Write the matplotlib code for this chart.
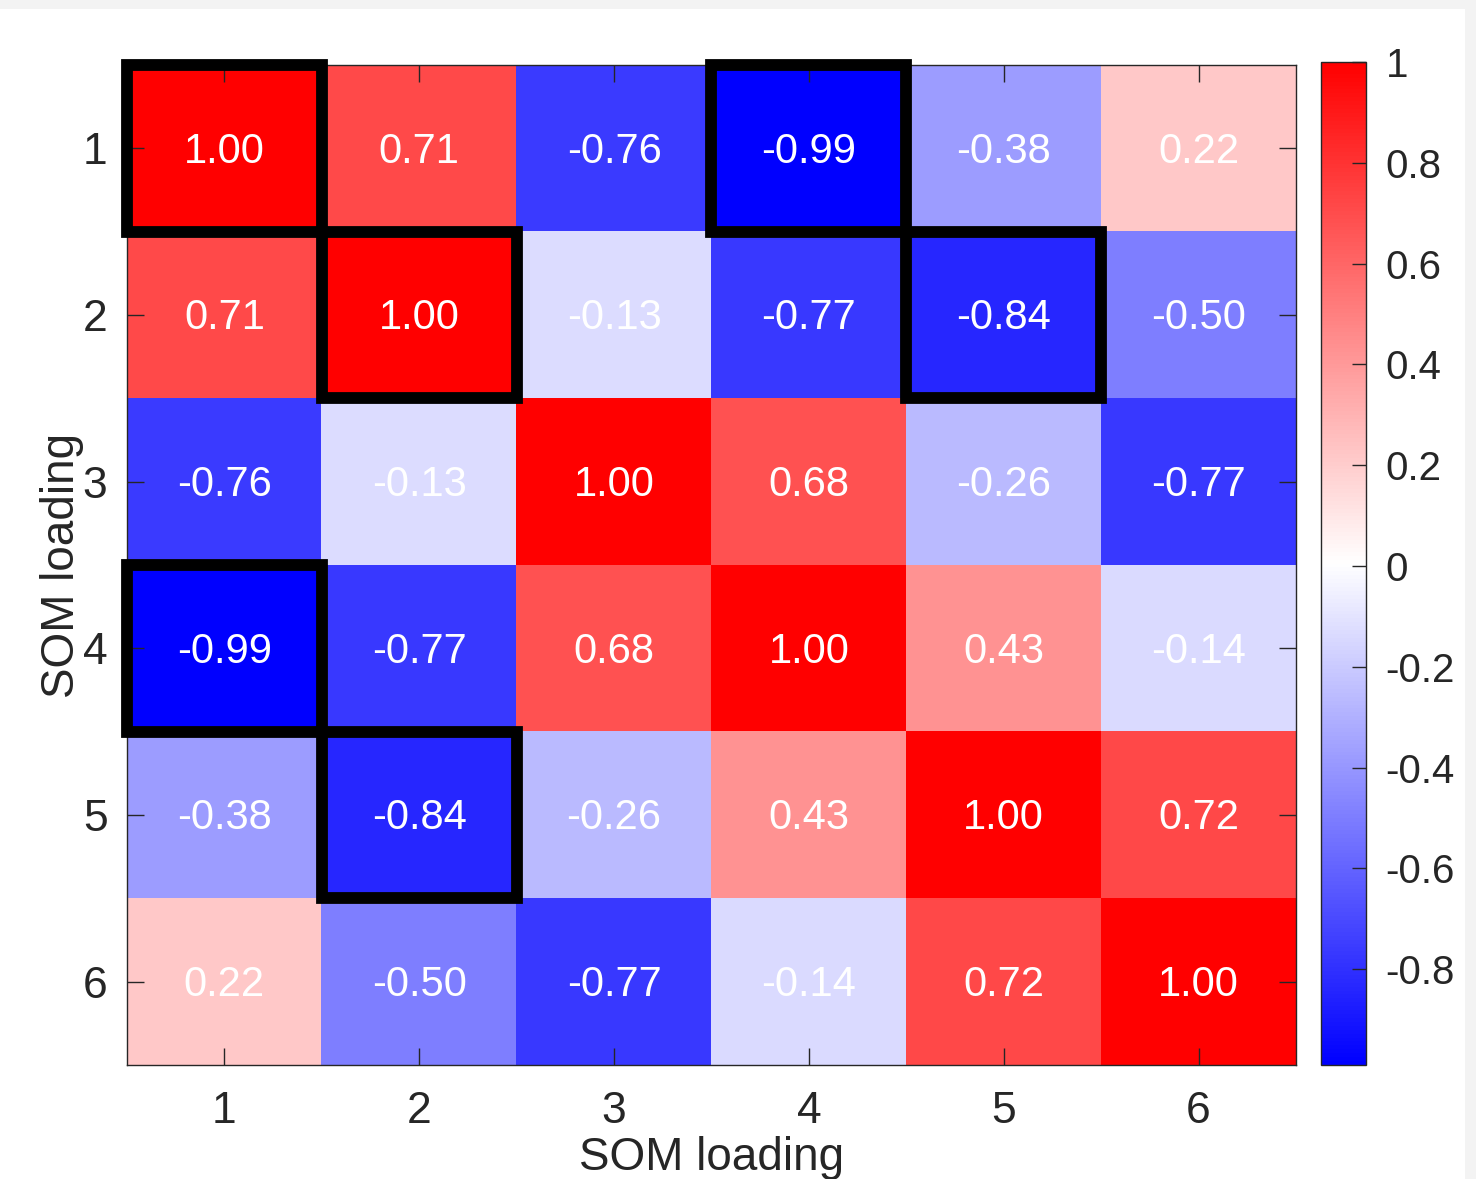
import matplotlib
matplotlib.use("Agg")
import matplotlib.pyplot as plt
from matplotlib.patches import Rectangle
from matplotlib.colors import Normalize
import numpy as np

plt.rcParams['font.family'] = ['Liberation Sans', 'DejaVu Sans']

# SOM loading correlation matrix
labels = ['1', '2', '3', '4', '5', '6']
row1 = [1.00, 0.71, -0.76, -0.99, -0.38, 0.22]
row2 = [0.71, 1.00, -0.13, -0.77, -0.84, -0.50]
row3 = [-0.76, -0.13, 1.00, 0.68, -0.26, -0.77]
row4 = [-0.99, -0.77, 0.68, 1.00, 0.43, -0.14]
row5 = [-0.38, -0.84, -0.26, 0.43, 1.00, 0.72]
row6 = [0.22, -0.50, -0.77, -0.14, 0.72, 1.00]
# highlighted cells (row, column), 1-based
highlight_rows = [1, 1, 2, 2, 4, 5]
highlight_cols = [1, 4, 2, 5, 1, 2]
cbar_ticks = [-0.8, -0.6, -0.4, -0.2, 0, 0.2, 0.4, 0.6, 0.8, 1]

C = np.array([row1, row2, row3, row4, row5, row6])
n = C.shape[0]

fig = plt.figure(figsize=(14.76, 11.79), dpi=100, facecolor='#f3f3f3')
# white canvas inside a thin grey frame
fig.patches.append(Rectangle((0, 0), 1465 / 1476, 1 - 9 / 1179,
                             transform=fig.transFigure, facecolor='white',
                             edgecolor='none', zorder=-10))

ax = fig.add_axes([127 / 1476, 1 - 1065 / 1179, 1169 / 1476, 1000 / 1179])
norm = Normalize(vmin=C.min(), vmax=C.max())
im = ax.imshow(C, cmap='bwr', norm=norm, aspect='auto',
               extent=[0.5, n + 0.5, n + 0.5, 0.5], interpolation='nearest')

for i in range(n):
    for j in range(n):
        ax.text(j + 1, i + 1.02, f"{C[i, j]:.2f}", ha='center', va='center',
                color='white', fontsize=30)

for r, c in zip(highlight_rows, highlight_cols):
    ax.add_patch(Rectangle((c - 0.5, r - 0.5), 1, 1, fill=False,
                           edgecolor='black', linewidth=8.5, zorder=5,
                           joinstyle='miter', clip_on=False))

ax.set_xlim(0.5, n + 0.5)
ax.set_ylim(n + 0.5, 0.5)
ax.set_xticks(range(1, n + 1))
ax.set_yticks(range(1, n + 1))
ax.set_xticklabels(labels)
ax.set_yticklabels(labels)
ax.tick_params(direction='in', length=12, width=1, color='#262626',
               top=True, right=True, labelsize=32, labelcolor='#262626',
               pad=14)
ax.tick_params(axis='x', pad=19)
for s in ax.spines.values():
    s.set_color('#262626')
    s.set_linewidth(1)
ax.set_xlabel('SOM loading', fontsize=33, color='#262626')
ax.xaxis.set_label_coords(0.5, -0.071)
ax.set_ylabel('SOM loading', fontsize=33, color='#262626')
ax.yaxis.set_label_coords(-0.037, 0.5)

cax = fig.add_axes([1321 / 1476, 1 - 1065 / 1179, 45 / 1476, 1003 / 1179])
cb = fig.colorbar(im, cax=cax, ticks=cbar_ticks)
cb.ax.set_yticklabels([f"{t:g}" for t in cbar_ticks])
cb.ax.tick_params(direction='in', length=10, width=1, color='#262626',
                  labelsize=29, labelcolor='#262626', pad=14)
cb.outline.set_edgecolor('#262626')
cb.outline.set_linewidth(1)

fig.savefig('out.png', dpi=100, facecolor=fig.get_facecolor())
